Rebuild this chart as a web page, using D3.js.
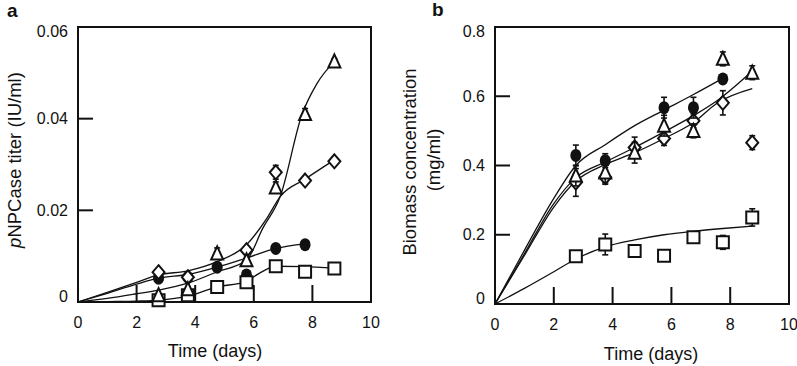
<!DOCTYPE html>
<html>
<head>
<meta charset="utf-8">
<script src="https://cdn.jsdelivr.net/npm/d3@7"></script>
<style>
  body { margin: 0; background: #fff; }
  text { font-family: Arial, "Liberation Sans", sans-serif; fill: #111; }
</style>
</head>
<body>
<div id="main"></div>
<script>
// sampling days (same for every series)
const days = [2.75, 3.75, 4.75, 5.75, 6.75, 7.75, 8.75];
const xTicks = [0, 2, 4, 6, 8, 10];

// panel a : pNPCase titer (IU/ml)
const aTicks = [0, 0.02, 0.04, 0.06];
const aTriangle = [0.0015, 0.0028, 0.0106, 0.0091, 0.0250, 0.0410, 0.0525];
const aDiamond  = [0.0065, 0.0054, null,   0.0113, 0.0283, 0.0265, 0.0307];
const aCircle   = [0.0052, 0.0054, 0.0076, 0.0059, 0.0117, 0.0125, null];
const aSquare   = [0.0004, 0.0015, 0.0033, 0.0043, 0.0078, 0.0066, 0.0073];
const aTriangleErr = [0, 0, 0.0012, 0, 0.0012, 0.0012, 0.0006];
const aDiamondErr  = [0, 0, 0, 0, 0.0015, 0, 0];

// fitted curves ([day, value])
const aTriangleFit = [[0,0],[1,0.0008],[2,0.0018],[2.75,0.0026],[3.75,0.0041],[4.75,0.0066],[5.75,0.0091],[6.3,0.0160],[6.9,0.0230],[7.65,0.0410],[8.15,0.0476],[8.75,0.0525]];
const aDiamondFit  = [[0,0],[1,0.0021],[2,0.0043],[2.75,0.0059],[3.75,0.0068],[4.75,0.0088],[5.75,0.0125],[6.45,0.0183],[6.9,0.0230],[7.75,0.0268],[8.75,0.0310]];
const aCircleFit   = [[0,0],[1,0.0019],[2,0.0039],[2.75,0.0052],[3.75,0.0060],[4.75,0.0076],[5.75,0.0096],[6.75,0.0117],[7.75,0.0127]];
const aSquareFit   = [[0,0],[1,0.0001],[2,0.0002],[2.75,0.0004],[3.75,0.0013],[4.75,0.0033],[5.7,0.0044],[6.2,0.0063],[6.75,0.0078],[7.7,0.0077],[8.75,0.0074]];

// panel b : biomass concentration (mg/ml)
const bTicks = [0, 0.2, 0.4, 0.6, 0.8];
const bTriangle = [0.371, 0.380, 0.437, 0.515, 0.500, 0.708, 0.668];
const bDiamond  = [0.351, 0.366, 0.452, 0.478, 0.529, 0.581, 0.466];
const bCircle   = [0.429, 0.414, null,  0.567, 0.567, 0.650, null];
const bSquare   = [0.138, 0.172, 0.153, 0.139, 0.193, 0.178, 0.250];
const bTriangleErr = [0.03, 0.03, 0.03, 0.03, 0.02, 0.02, 0.02];
const bDiamondErr  = [0.04, 0.02, 0.03, 0.02, 0.02, 0.035, 0.02];
const bCircleErr   = [0.03, 0.02, 0, 0.03, 0.03, 0, 0];
const bSquareErr   = [0, 0.03, 0, 0, 0.015, 0.02, 0.025];

const bCircleFit   = [[0,0],[1,0.155],[2,0.305],[2.75,0.400],[3.75,0.460],[4.75,0.515],[5.75,0.560],[6.75,0.605],[7.75,0.652]];
const bTriangleFit = [[0,0],[1,0.145],[2,0.290],[2.75,0.365],[3.75,0.410],[4.75,0.452],[5.75,0.497],[6.75,0.544],[7.55,0.587],[8.75,0.673]];
const bDiamondFit  = [[0,0],[1,0.140],[2,0.280],[2.75,0.355],[3.75,0.403],[4.75,0.437],[5.75,0.478],[6.75,0.524],[7.55,0.580],[8.75,0.622]];
const bSquareFit   = [[0,0],[1,0.045],[2,0.093],[2.75,0.130],[3.75,0.165],[4.75,0.185],[5.75,0.200],[6.75,0.210],[7.75,0.218],[8.75,0.225]];

const svg = d3.select("#main").append("svg")
    .attr("width", 797)
    .attr("height", 366);

// marker shapes, drawn around (0,0)
const shapes = {
    square:   "M-6,-6H6V6H-6Z",
    diamond:  "M0,-7L6,0L0,7L-6,0Z",
    triangle: "M0,-7L6,6H-6Z",
};

function drawPanel(opt) {
    const x = d3.scaleLinear().domain([0, 10]).range([opt.left, opt.right]);
    const y = d3.scaleLinear().domain([0, opt.ymax]).range([opt.bottom, opt.top]);
    const g = svg.append("g");

    // inward ticks
    g.selectAll(".xt").data(xTicks.slice(1, -1)).enter().append("line")
        .attr("x1", d => x(d)).attr("x2", d => x(d))
        .attr("y1", opt.bottom).attr("y2", opt.bottom - 17)
        .attr("stroke", "#111").attr("stroke-width", 2);
    g.selectAll(".yt").data(opt.yticks.slice(1, -1)).enter().append("line")
        .attr("x1", opt.left).attr("x2", opt.left + 15)
        .attr("y1", d => y(d)).attr("y2", d => y(d))
        .attr("stroke", "#111").attr("stroke-width", 2);

    g.append("rect")
        .attr("x", opt.left).attr("y", opt.top)
        .attr("width", opt.right - opt.left).attr("height", opt.bottom - opt.top)
        .attr("fill", "none").attr("stroke", "#111").attr("stroke-width", 2);

    // tick labels
    g.selectAll(".xl").data(xTicks).enter().append("text")
        .attr("x", d => x(d)).attr("y", opt.bottom + 26)
        .attr("text-anchor", "middle").style("font-size", "16px")
        .text(d => d);
    g.selectAll(".yl").data(opt.yticks).enter().append("text")
        .attr("x", opt.left - 10).attr("y", d => y(d))
        .attr("dy", (d, i) => i == 0 ? "0.0em" : (i == opt.yticks.length - 1 ? "0.6em" : "0.35em"))
        .attr("text-anchor", "end").style("font-size", "16px")
        .text(opt.fmt);

    // fitted curves
    const line = d3.line().x(d => x(d[0])).y(d => y(d[1])).curve(d3.curveMonotoneX);
    opt.fits.forEach(f => {
        g.append("path").attr("d", line(f))
            .attr("fill", "none").attr("stroke", "#111").attr("stroke-width", 1.3);
    });

    // error bars + markers
    opt.series.forEach(s => {
        const pts = days.map((d, i) => ({ x: d, v: s.values[i], e: s.err ? s.err[i] : 0 }))
            .filter(p => p.v != null);
        const eb = g.append("g").attr("stroke", "#111").attr("stroke-width", 1.6);
        pts.filter(p => p.e > 0).forEach(p => {
            eb.append("line").attr("x1", x(p.x)).attr("x2", x(p.x))
                .attr("y1", y(p.v - p.e)).attr("y2", y(p.v + p.e));
            [p.v - p.e, p.v + p.e].forEach(v => {
                eb.append("line").attr("x1", x(p.x) - 3).attr("x2", x(p.x) + 3)
                    .attr("y1", y(v)).attr("y2", y(v));
            });
        });
        if (s.shape == "circle") {
            g.selectAll(null).data(pts).enter().append("ellipse")
                .attr("cx", p => x(p.x)).attr("cy", p => y(p.v))
                .attr("rx", 5.5).attr("ry", 6.5).attr("fill", "#111");
        } else {
            g.selectAll(null).data(pts).enter().append("path")
                .attr("d", shapes[s.shape])
                .attr("transform", p => `translate(${x(p.x)},${y(p.v)})`)
                .attr("fill", "#fff").attr("stroke", "#111").attr("stroke-width", 2);
        }
    });
}

drawPanel({
    left: 78, right: 371, top: 27, bottom: 302, ymax: 0.06,
    yticks: aTicks, fmt: d => d == 0 ? "0" : d3.format(".2f")(d),
    fits: [aTriangleFit, aDiamondFit, aCircleFit, aSquareFit],
    series: [
        { shape: "circle", values: aCircle },
        { shape: "square", values: aSquare },
        { shape: "diamond", values: aDiamond, err: aDiamondErr },
        { shape: "triangle", values: aTriangle, err: aTriangleErr },
    ],
});

drawPanel({
    left: 495, right: 789, top: 27, bottom: 304, ymax: 0.8,
    yticks: bTicks, fmt: d => d == 0 ? "0" : d3.format(".1f")(d),
    fits: [bCircleFit, bTriangleFit, bDiamondFit, bSquareFit],
    series: [
        { shape: "square", values: bSquare, err: bSquareErr },
        { shape: "diamond", values: bDiamond, err: bDiamondErr },
        { shape: "triangle", values: bTriangle, err: bTriangleErr },
        { shape: "circle", values: bCircle, err: bCircleErr },
    ],
});

// titles
svg.append("text").attr("x", 7).attr("y", 17)
    .style("font-size", "19px").style("font-weight", "bold").text("a");
svg.append("text").attr("x", 432).attr("y", 16)
    .style("font-size", "19px").style("font-weight", "bold").text("b");

svg.append("text").attr("x", 215).attr("y", 357)
    .attr("text-anchor", "middle").style("font-size", "18px").text("Time (days)");
svg.append("text").attr("x", 651).attr("y", 360)
    .attr("text-anchor", "middle").style("font-size", "18px").text("Time (days)");

const ya = svg.append("text")
    .attr("transform", "translate(21,160) rotate(-90)")
    .attr("text-anchor", "middle").style("font-size", "18.5px");
ya.append("tspan").style("font-style", "italic").text("p");
ya.append("tspan").text("NPCase titer  (IU/ml)");

svg.append("text")
    .attr("transform", "translate(416,162) rotate(-90)")
    .attr("text-anchor", "middle").style("font-size", "18.5px").text("Biomass concentration");
svg.append("text")
    .attr("transform", "translate(440,160) rotate(-90)")
    .attr("text-anchor", "middle").style("font-size", "18.5px").text("(mg/ml)");
</script>
</body>
</html>
